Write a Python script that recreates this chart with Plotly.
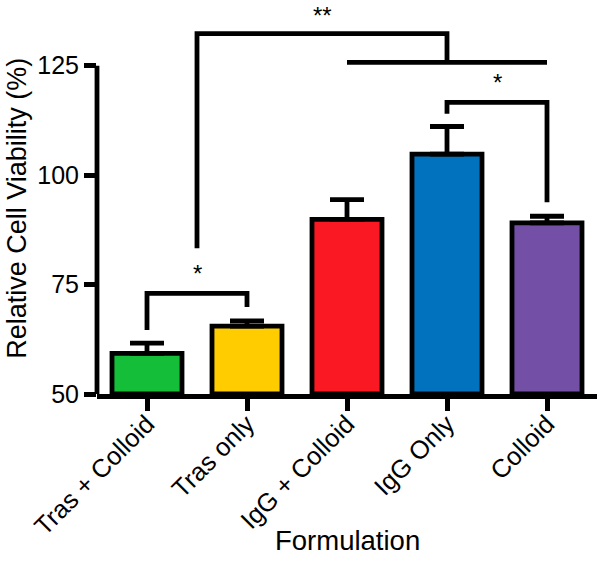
import plotly.graph_objects as go

categories = ["Tras + Colloid", "Tras only", "IgG + Colloid", "IgG Only", "Colloid"]
means = [59.3, 65.5, 89.9, 104.8, 89.1]
sem = [2.3, 1.2, 4.5, 6.3, 1.5]
colors = ["#14BE38", "#FFCC00", "#FA1923", "#0072BE", "#7350A5"]
y_ticks = [50, 75, 100, 125]

# significance brackets: (x_left, y_left_bottom, x_right, y_right_bottom, y_top, label, label_y)
brackets = [
    (0, 64.6, 1, 69.9, 73.0, "*", 77.5),
    (3, 114.0, 4, 93.8, 116.6, "*", 121.2),
]
group_line = (2, 4, 125.75)
upper_bracket = (0.5, 83.3, 3, 125.75, 132.3, "**", 136.4)

FONT = "Liberation Sans, Arial, sans-serif"
LW = 4.8

fig = go.Figure()
x = list(range(len(categories)))
fig.add_trace(go.Bar(
    x=x, y=[m - 50 for m in means], base=50,
    width=0.7,
    marker=dict(color=colors, line=dict(color="black", width=LW)),
    error_y=dict(type="data", symmetric=False, array=sem,
                 arrayminus=[0] * len(sem), color="black", thickness=LW, width=17),
    showlegend=False,
))

shapes = []
annotations = []
for xl, yl, xr, yr, yt, lab, ly in brackets:
    shapes.append(dict(type="path", xref="x", yref="y",
                       path=f"M {xl},{yl} L {xl},{yt} L {xr},{yt} L {xr},{yr}",
                       line=dict(color="black", width=LW)))
    annotations.append(dict(x=(xl + xr) / 2, y=ly, xref="x", yref="y", text=lab,
                            showarrow=False, font=dict(size=24, color="black", family=FONT)))

gx0, gx1, gy = group_line
shapes.append(dict(type="line", xref="x", yref="y", x0=gx0, x1=gx1, y0=gy, y1=gy,
                   line=dict(color="black", width=LW)))
ux0, uy0, ux1, uy1, uyt, ulab, uly = upper_bracket
shapes.append(dict(type="path", xref="x", yref="y",
                   path=f"M {ux0},{uy0} L {ux0},{uyt} L {ux1},{uyt} L {ux1},{uy1}",
                   line=dict(color="black", width=LW)))
annotations.append(dict(x=(ux0 + ux1) / 2, y=uly, xref="x", yref="y", text=ulab,
                        showarrow=False, font=dict(size=24, color="black", family=FONT)))

# y axis line (only up to 125)
shapes.append(dict(type="line", xref="paper", yref="y", x0=0, x1=0, y0=50, y1=125,
                   line=dict(color="black", width=LW)))

annotations.append(dict(text="Formulation", xref="paper", yref="paper", x=0.5, y=0,
                        yanchor="middle", yshift=-146, showarrow=False,
                        font=dict(size=27.5, color="black", family=FONT)))
annotations.append(dict(text="Relative Cell Viability (%)", xref="paper", yref="paper",
                        x=0, y=0.47, xanchor="center", yanchor="middle", xshift=-80,
                        textangle=-90, showarrow=False,
                        font=dict(size=27, color="black", family=FONT)))

fig.update_layout(
    width=604, height=580,
    margin=dict(l=97, r=7, t=0, b=186),
    plot_bgcolor="white", paper_bgcolor="white",
    shapes=shapes, annotations=annotations,
    font=dict(family=FONT, color="black"),
    xaxis=dict(range=[-0.5, 4.5], tickvals=x, ticktext=categories, tickangle=-45,
               showline=True, linecolor="black", linewidth=LW,
               ticks="outside", ticklen=12, tickwidth=LW, tickcolor="black",
               tickfont=dict(size=25.5, color="black", family=FONT),
               ticklabelstandoff=-12,
               showgrid=False, zeroline=False, automargin=False),
    yaxis=dict(range=[50, 140], tickvals=y_ticks, showline=False,
               ticks="outside", ticklen=12, tickwidth=LW, tickcolor="black",
               tickfont=dict(size=25, color="black", family=FONT),
               showgrid=False, zeroline=False, automargin=False),
)

fig.write_html("out.html", config={"displayModeBar": False},
               post_script="document.body.style.margin='0';")
